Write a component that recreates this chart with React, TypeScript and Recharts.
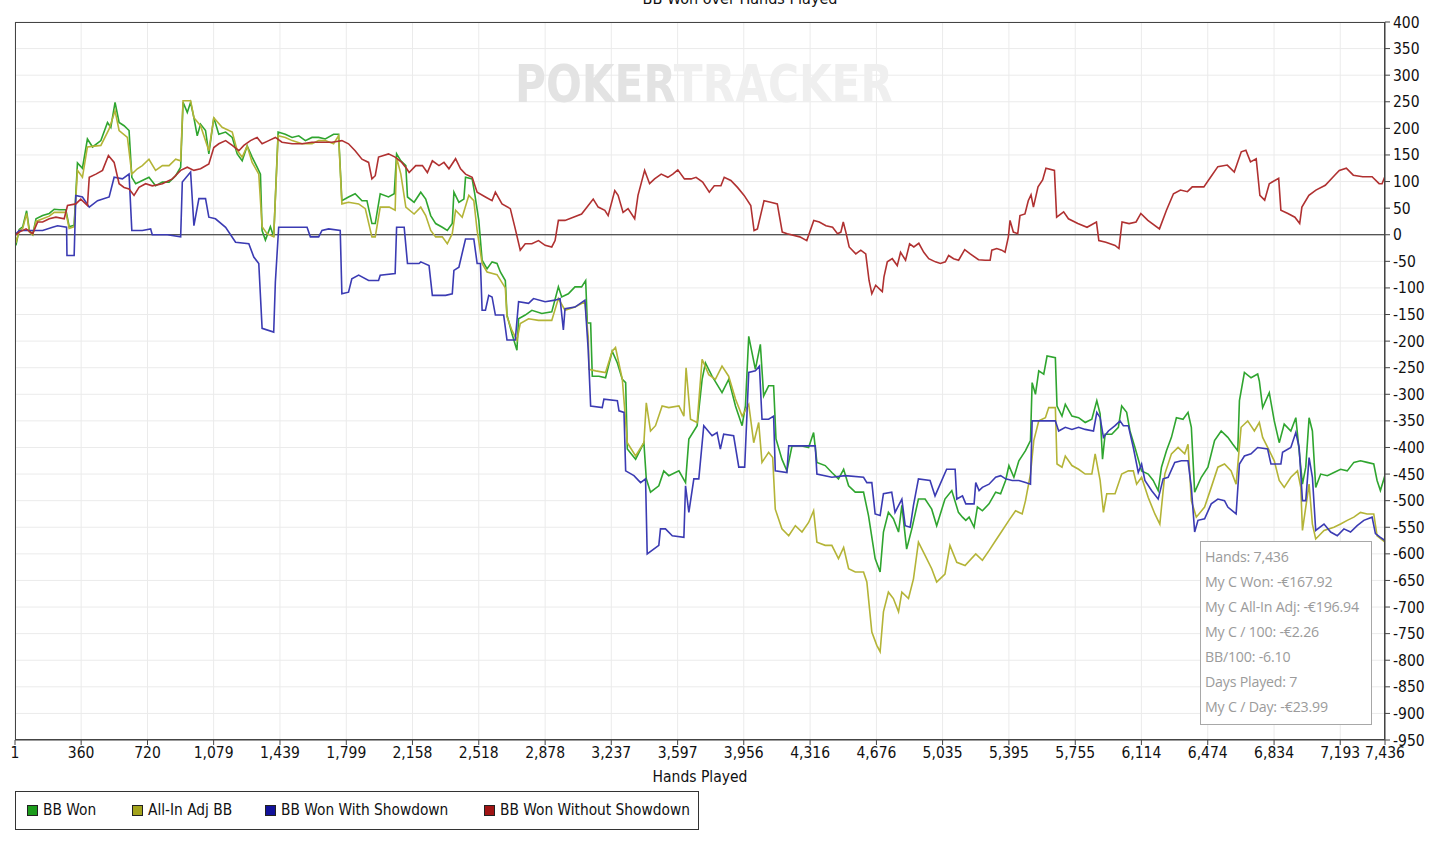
import { CartesianGrid, Line, LineChart, ReferenceLine, XAxis, YAxis } from 'recharts';

// [hand, big blinds] pairs
const bbWon: [number, number][] = [
  [1, 0], [6, -20], [24, 10], [43, 15], [64, 45], [79, 8], [97, 0], [115, 30], [151, 36], [187, 40], [214, 48], [241, 47],
  [277, 47], [295, 15], [322, 18], [340, 135], [367, 125], [394, 180], [422, 165], [467, 177], [503, 211], [521, 202],
  [544, 249], [566, 211], [593, 205], [620, 196], [635, 108], [656, 96], [692, 102], [728, 108], [764, 92], [801, 99],
  [837, 99], [873, 111], [900, 127], [913, 249], [936, 230], [954, 249], [972, 220], [990, 186], [1008, 208], [1035, 196],
  [1053, 152], [1080, 220], [1107, 189], [1144, 193], [1180, 183], [1207, 152], [1234, 139], [1261, 167], [1288, 146],
  [1315, 127], [1333, 114], [1342, 8], [1360, -10], [1387, 15], [1405, -4], [1429, 193], [1468, 189], [1505, 183],
  [1541, 186], [1577, 177], [1613, 183], [1649, 183], [1685, 180], [1730, 189], [1757, 189], [1775, 64], [1811, 71],
  [1847, 77], [1884, 64], [1911, 64], [1938, 21], [1956, 21], [1983, 77], [2028, 71], [2059, 77], [2072, 152], [2095, 139],
  [2122, 130], [2131, 71], [2167, 61], [2203, 80], [2230, 67], [2257, 36], [2284, 21], [2320, 14], [2347, 8], [2374, 21],
  [2383, 80], [2410, 61], [2437, 67], [2446, 108], [2482, 105], [2496, 77], [2518, 27], [2536, -48], [2563, -64],
  [2590, -51], [2617, -54], [2635, -70], [2662, -86], [2671, -151], [2698, -186], [2725, -217], [2734, -158], [2770, -151],
  [2806, -142], [2860, -148], [2914, -145], [2950, -98], [2968, -117], [3004, -111], [3040, -98], [3076, -98], [3098, -86],
  [3107, -166], [3125, -166], [3134, -266], [3170, -266], [3206, -269], [3242, -219], [3270, -241], [3297, -272],
  [3315, -278], [3324, -403], [3369, -422], [3414, -391], [3427, -459], [3450, -484], [3495, -472], [3522, -444],
  [3549, -453], [3604, -444], [3640, -466], [3658, -384], [3703, -359], [3730, -272], [3748, -241], [3784, -266],
  [3838, -297], [3874, -272], [3911, -322], [3947, -359], [3965, -322], [3983, -191], [4019, -253], [4046, -206],
  [4064, -303], [4091, -284], [4118, -284], [4131, -384], [4163, -422], [4190, -444], [4218, -397], [4272, -397],
  [4308, -400], [4335, -372], [4353, -428], [4398, -434], [4434, -447], [4470, -459], [4498, -441], [4525, -472],
  [4561, -484], [4606, -484], [4633, -528], [4669, -609], [4696, -634], [4714, -559], [4741, -522], [4768, -534],
  [4796, -559], [4814, -509], [4840, -591], [4868, -553], [4904, -497], [4940, -497], [4976, -516], [5003, -547],
  [5048, -497], [5085, -481], [5121, -522], [5143, -531], [5161, -537], [5179, -531], [5206, -550], [5224, -512],
  [5251, -519], [5287, -506], [5323, -484], [5350, -487], [5377, -462], [5395, -434], [5422, -456], [5449, -425],
  [5485, -406], [5512, -387], [5521, -278], [5539, -300], [5557, -256], [5584, -262], [5602, -228], [5647, -231],
  [5656, -322], [5683, -341], [5701, -319], [5737, -341], [5773, -344], [5809, -353], [5845, -347], [5872, -312],
  [5890, -337], [5903, -422], [5917, -375], [5953, -375], [5989, -362], [6007, -322], [6034, -334], [6052, -369],
  [6079, -400], [6115, -444], [6151, -450], [6178, -462], [6205, -481], [6223, -437], [6250, -406], [6277, -381],
  [6304, -344], [6340, -347], [6367, -334], [6385, -362], [6403, -484], [6439, -456], [6475, -437], [6511, -387],
  [6547, -369], [6583, -381], [6610, -394], [6637, -406], [6646, -312], [6673, -259], [6709, -269], [6745, -262],
  [6754, -275], [6772, -325], [6808, -297], [6835, -350], [6862, -391], [6889, -356], [6925, -369], [6952, -344],
  [6970, -406], [6988, -469], [7006, -437], [7024, -344], [7042, -369], [7060, -475], [7087, -450], [7123, -453],
  [7159, -447], [7195, -441], [7231, -444], [7267, -428], [7303, -425], [7339, -428], [7375, -431], [7393, -462],
  [7411, -481], [7436, -452],
];

const allInAdj: [number, number][] = [
  [1, 0], [6, -15], [24, 8], [43, 12], [64, 40], [79, 5], [97, 0], [115, 25], [151, 30], [187, 35], [214, 42], [241, 42],
  [277, 42], [295, 12], [322, 15], [340, 121], [367, 108], [394, 165], [467, 168], [512, 199], [544, 233], [566, 196],
  [611, 183], [635, 114], [665, 124], [692, 130], [728, 142], [764, 121], [801, 130], [837, 130], [873, 142], [900, 139],
  [913, 252], [954, 252], [972, 220], [1008, 205], [1053, 158], [1080, 220], [1125, 202], [1180, 193], [1207, 158],
  [1234, 146], [1261, 167], [1288, 136], [1324, 114], [1342, 15], [1369, 2], [1405, -4], [1429, 186], [1468, 183],
  [1505, 177], [1559, 171], [1613, 171], [1649, 177], [1685, 177], [1730, 171], [1757, 186], [1775, 58], [1811, 61],
  [1866, 58], [1902, 49], [1938, -4], [1956, -4], [1983, 52], [2032, 52], [2064, 46], [2072, 145], [2095, 114], [2122, 52],
  [2167, 39], [2203, 52], [2230, 36], [2257, 8], [2284, -4], [2320, -4], [2347, -17], [2374, 2], [2392, 46], [2428, 33],
  [2464, 74], [2491, 64], [2509, 8], [2536, -54], [2563, -70], [2617, -75], [2662, -100], [2671, -154], [2698, -180],
  [2725, -198], [2743, -167], [2788, -158], [2842, -161], [2914, -161], [2950, -120], [2986, -142], [3040, -136],
  [3094, -126], [3112, -192], [3116, -253], [3152, -256], [3206, -259], [3242, -219], [3260, -212], [3297, -272],
  [3324, -391], [3369, -416], [3414, -391], [3427, -316], [3450, -369], [3477, -359], [3513, -322], [3549, -325],
  [3604, -322], [3631, -341], [3643, -250], [3667, -347], [3703, -353], [3730, -234], [3766, -263], [3802, -272],
  [3838, -247], [3874, -266], [3911, -309], [3947, -341], [3983, -319], [4010, -391], [4037, -353], [4055, -428],
  [4091, -409], [4113, -419], [4127, -516], [4163, -553], [4200, -566], [4236, -547], [4272, -559], [4308, -541],
  [4335, -519], [4353, -578], [4398, -584], [4434, -584], [4470, -609], [4498, -588], [4525, -628], [4561, -634],
  [4606, -634], [4624, -653], [4651, -747], [4678, -772], [4696, -784], [4714, -709], [4741, -672], [4768, -684],
  [4796, -709], [4814, -672], [4850, -684], [4877, -647], [4904, -578], [4940, -603], [4976, -628], [5003, -653],
  [5048, -638], [5075, -584], [5112, -616], [5157, -622], [5215, -600], [5251, -612], [5287, -594], [5323, -575],
  [5359, -556], [5395, -537], [5431, -519], [5467, -525], [5485, -500], [5512, -450], [5530, -387], [5557, -350],
  [5593, -344], [5611, -325], [5647, -325], [5656, -431], [5683, -437], [5701, -416], [5737, -434], [5773, -441],
  [5809, -450], [5845, -450], [5863, -412], [5890, -462], [5908, -522], [5926, -487], [5971, -487], [6007, -450],
  [6043, -444], [6070, -444], [6088, -469], [6115, -456], [6151, -494], [6187, -525], [6214, -544], [6241, -450],
  [6277, -412], [6313, -400], [6349, -412], [6367, -394], [6385, -500], [6412, -531], [6457, -512], [6493, -475],
  [6529, -437], [6565, -431], [6601, -444], [6628, -469], [6655, -362], [6691, -350], [6727, -369], [6754, -353],
  [6772, -381], [6808, -406], [6835, -425], [6862, -462], [6889, -475], [6925, -456], [6961, -444], [6979, -475],
  [6988, -556], [7006, -512], [7024, -469], [7042, -544], [7060, -572], [7105, -556], [7159, -550], [7195, -544],
  [7231, -537], [7267, -531], [7303, -522], [7339, -525], [7375, -525], [7393, -566], [7436, -578],
];

const withShowdown: [number, number][] = [
  [1, 0], [24, 8], [115, 8], [151, 8], [205, 14], [232, 17], [281, 14], [283, -39], [322, -39], [331, 74], [367, 71],
  [404, 52], [449, 64], [512, 71], [539, 108], [584, 105], [620, 114], [635, 8], [692, 8], [737, 11], [746, 0], [828, 0],
  [900, -4], [909, 99], [954, 118], [972, 17], [999, 68], [1035, 68], [1053, 33], [1089, 30], [1144, 14], [1198, -14],
  [1270, -17], [1297, -42], [1324, -54], [1342, -176], [1405, -183], [1414, -89], [1432, 14], [1505, 14], [1586, 14],
  [1604, -4], [1649, -4], [1667, 8], [1703, 11], [1766, 8], [1775, -111], [1811, -108], [1829, -83], [1866, -76],
  [1920, -86], [1974, -86], [1983, -76], [2064, -73], [2072, 14], [2113, 14], [2131, -54], [2194, -54], [2203, -51],
  [2248, -58], [2266, -114], [2338, -114], [2374, -111], [2383, -67], [2410, -61], [2446, -8], [2491, -8], [2509, -54],
  [2527, -54], [2536, -142], [2554, -142], [2572, -114], [2590, -117], [2608, -151], [2653, -151], [2671, -198],
  [2716, -198], [2734, -126], [2788, -129], [2815, -120], [2878, -126], [2932, -123], [2959, -120], [2977, -179],
  [2986, -139], [3040, -136], [3094, -123], [3112, -217], [3125, -322], [3188, -325], [3197, -309], [3270, -312],
  [3279, -331], [3306, -334], [3315, -444], [3360, -453], [3396, -466], [3423, -459], [3432, -600], [3495, -584],
  [3504, -553], [3531, -553], [3568, -566], [3631, -569], [3640, -472], [3658, -522], [3685, -459], [3712, -459],
  [3739, -359], [3784, -378], [3811, -372], [3829, -403], [3847, -375], [3901, -378], [3929, -437], [3961, -437],
  [3983, -259], [4019, -256], [4041, -247], [4055, -347], [4091, -347], [4118, -341], [4127, -444], [4190, -447],
  [4200, -397], [4344, -397], [4353, -450], [4434, -456], [4507, -453], [4606, -456], [4624, -466], [4651, -466],
  [4669, -525], [4696, -528], [4714, -487], [4759, -484], [4777, -522], [4814, -497], [4832, -547], [4859, -550],
  [4877, -509], [4904, -459], [4967, -462], [4994, -491], [5057, -441], [5103, -441], [5112, -497], [5143, -491],
  [5161, -506], [5206, -506], [5215, -466], [5233, -481], [5251, -475], [5287, -469], [5323, -456], [5350, -453],
  [5377, -459], [5413, -462], [5449, -462], [5485, -466], [5512, -469], [5521, -350], [5647, -350], [5665, -369],
  [5701, -362], [5737, -366], [5773, -362], [5809, -366], [5854, -369], [5872, -334], [5890, -344], [5908, -381],
  [5935, -369], [5971, -359], [5998, -350], [6016, -359], [6043, -359], [6070, -400], [6097, -447], [6115, -431],
  [6133, -462], [6169, -481], [6205, -497], [6232, -459], [6259, -456], [6295, -428], [6331, -425], [6367, -425],
  [6385, -475], [6403, -559], [6421, -537], [6457, -534], [6493, -506], [6529, -497], [6565, -500], [6583, -512],
  [6628, -525], [6646, -431], [6673, -416], [6709, -412], [6745, -400], [6799, -403], [6817, -431], [6871, -431],
  [6880, -409], [6925, -400], [6952, -372], [6970, -400], [6988, -500], [7006, -500], [7024, -419], [7042, -456],
  [7060, -556], [7105, -544], [7141, -559], [7177, -566], [7213, -553], [7249, -559], [7285, -547], [7321, -537],
  [7366, -531], [7384, -562], [7411, -569], [7436, -575],
];

const withoutShowdown: [number, number][] = [
  [1, 0], [6, 0], [24, 5], [61, 11], [97, 2], [124, 24], [151, 24], [187, 30], [223, 33], [268, 30], [286, 55], [331, 58],
  [358, 67], [394, 55], [404, 108], [440, 114], [476, 121], [508, 149], [539, 136], [566, 96], [593, 89], [620, 86],
  [647, 74], [674, 89], [710, 96], [746, 92], [801, 96], [855, 105], [900, 121], [936, 127], [972, 121], [1008, 124],
  [1053, 133], [1080, 164], [1107, 171], [1144, 177], [1180, 168], [1216, 158], [1243, 168], [1279, 177], [1315, 183],
  [1342, 171], [1378, 177], [1414, 183], [1450, 174], [1505, 171], [1559, 171], [1613, 174], [1667, 174], [1721, 174],
  [1775, 177], [1811, 171], [1847, 158], [1884, 142], [1920, 136], [1938, 105], [1956, 111], [1974, 146], [2028, 152],
  [2064, 146], [2100, 136], [2127, 124], [2140, 117], [2176, 130], [2212, 130], [2239, 117], [2266, 139], [2302, 130],
  [2329, 136], [2356, 124], [2392, 143], [2419, 124], [2446, 114], [2482, 108], [2509, 80], [2554, 71], [2590, 64],
  [2608, 80], [2644, 58], [2689, 49], [2716, 11], [2743, -29], [2770, -17], [2806, -17], [2842, -11], [2878, -20],
  [2914, -23], [2932, -11], [2950, 27], [2986, 27], [3031, 33], [3076, 39], [3112, 55], [3139, 67], [3166, 52], [3202, 46],
  [3220, 36], [3256, 83], [3274, 74], [3301, 42], [3328, 49], [3364, 30], [3382, 74], [3418, 121], [3445, 96], [3472, 105],
  [3508, 114], [3544, 108], [3571, 114], [3598, 122], [3634, 105], [3670, 105], [3697, 108], [3733, 99], [3769, 80],
  [3796, 92], [3832, 92], [3850, 108], [3886, 102], [3922, 89], [3958, 74], [3994, 55], [4012, 8], [4030, 11], [4066, 64],
  [4102, 61], [4138, 58], [4165, 5], [4192, 2], [4260, -4], [4298, -11], [4336, 27], [4366, 24], [4402, 17], [4438, 14],
  [4465, 2], [4483, 5], [4496, 24], [4510, 5], [4528, -23], [4564, -36], [4591, -29], [4618, -36], [4636, -86],
  [4651, -111], [4672, -95], [4699, -104], [4708, -107], [4717, -79], [4735, -51], [4762, -45], [4789, -58], [4807, -33],
  [4834, -48], [4856, -17], [4879, -23], [4906, -16], [4933, -33], [4960, -45], [4996, -51], [5023, -54], [5050, -51],
  [5068, -39], [5095, -45], [5122, -48], [5155, -28], [5185, -36], [5230, -47], [5266, -48], [5293, -48], [5302, -29],
  [5329, -26], [5356, -29], [5374, -33], [5392, -4], [5401, 27], [5419, 5], [5443, 2], [5455, 36], [5482, 39], [5500, 64],
  [5515, 75], [5528, 52], [5553, 90], [5578, 103], [5596, 125], [5642, 121], [5654, 33], [5692, 43], [5718, 30],
  [5769, 21], [5819, 14], [5870, 24], [5883, -11], [5921, -14], [5971, -20], [5992, -26], [6009, 24], [6047, 21],
  [6085, 24], [6111, 40], [6149, 27], [6212, 11], [6250, 46], [6288, 77], [6326, 84], [6364, 81], [6390, 90], [6453, 90],
  [6491, 109], [6529, 128], [6580, 131], [6618, 118], [6656, 156], [6681, 159], [6706, 137], [6737, 143], [6757, 74],
  [6783, 65], [6808, 96], [6859, 106], [6871, 46], [6909, 40], [6947, 33], [6973, 21], [6985, 52], [7023, 74], [7061, 84],
  [7112, 93], [7163, 112], [7188, 121], [7226, 125], [7264, 112], [7315, 109], [7366, 109], [7404, 96], [7420, 96],
  [7436, 110],
];

const handTicks = [1, 360, 720, 1079, 1439, 1799, 2158, 2518, 2878, 3237, 3597, 3956, 4316, 4676, 5035, 5395, 5755, 6114, 6474, 6834, 7193, 7436];
const bbTicks = [400, 350, 300, 250, 200, 150, 100, 50, 0, -50, -100, -150, -200, -250, -300, -350, -400, -450, -500, -550, -600, -650, -700, -750, -800, -850, -900, -950];

const summaryLines = [
  'Hands: 7,436',
  'My C Won: -€167.92',
  'My C All-In Adj: -€196.94',
  'My C / 100: -€2.26',
  'BB/100: -6.10',
  'Days Played: 7',
  'My C / Day: -€23.99',
];

const series = [
  { name: 'BB Won', points: bbWon, stroke: '#2fa52f', swatch: '#1c9c1c' },
  { name: 'All-In Adj BB', points: allInAdj, stroke: '#b4b437', swatch: '#a3a31c' },
  { name: 'BB Won With Showdown', points: withShowdown, stroke: '#3b3bb3', swatch: '#12129a' },
  { name: 'BB Won Without Showdown', points: withoutShowdown, stroke: '#b03131', swatch: '#a01414' },
];

const legendOffsets = [11, 116, 249, 468];

const narrow = "'Liberation Sans Narrow', 'DejaVu Sans Condensed', sans-serif";
const tickStyle = { fill: '#111', fontSize: 15.5, fontFamily: narrow };

export default function App() {
  return (
    <div style={{ position: 'absolute', left: 0, top: 0, width: 1435, height: 842, background: '#fff', overflow: 'hidden' }}>
      <LineChart width={1435} height={842} margin={{ top: 22, right: 5, bottom: 72, left: 15 }}>
        <text x={740} y={4} textAnchor="middle" fontFamily={narrow} fontSize={16} fill="#111">
          BB Won over Hands Played
        </text>
        <text
          x={515}
          y={102}
          textLength={378}
          lengthAdjust="spacingAndGlyphs"
          fontFamily={narrow}
          fontWeight={700}
          fontSize={52}
        >
          <tspan fill="#e3e3e3">POKER</tspan>
          <tspan fill="#efefef">TRACKER</tspan>
        </text>
        <CartesianGrid stroke="#ebebeb" strokeWidth={1} />
        <XAxis
          dataKey="hand"
          type="number"
          domain={[1, 7436]}
          ticks={handTicks}
          interval={0}
          allowDataOverflow
          tickFormatter={(v: number) => v.toLocaleString('en-US')}
          tick={tickStyle}
          tickSize={5}
          tickMargin={2}
          height={30}
          stroke="#444"
        />
        <YAxis
          orientation="right"
          type="number"
          domain={[-950, 400]}
          ticks={bbTicks}
          interval={0}
          tick={{ ...tickStyle, textAnchor: 'start' }}
          tickSize={5}
          tickMargin={3}
          width={45}
          stroke="#444"
        />
        <ReferenceLine y={0} stroke="#222" strokeWidth={1.2} />
        {series.map((s) => (
          <Line
            key={s.name}
            data={s.points.map(([hand, bb]) => ({ hand, bb }))}
            dataKey="bb"
            name={s.name}
            type="linear"
            stroke={s.stroke}
            strokeWidth={1.6}
            dot={false}
            activeDot={false}
            isAnimationActive={false}
          />
        ))}
      </LineChart>

      {/* plot frame */}
      <div style={{ position: 'absolute', left: 15, top: 22, width: 1370, height: 718, border: '1px solid #444', boxSizing: 'border-box', pointerEvents: 'none' }} />

      <div style={{ position: 'absolute', left: 0, width: 1400, top: 768, textAlign: 'center', fontFamily: narrow, fontSize: 15.5, color: '#111' }}>
        Hands Played
      </div>

      <div
        style={{
          position: 'absolute',
          left: 1200,
          top: 541,
          width: 172,
          height: 184,
          border: '1px solid #a8a8a8',
          background: '#fff',
          boxSizing: 'border-box',
          padding: '4px 0 0 4px',
          fontFamily: "'Open Sans', sans-serif",
          fontSize: 14.2,
          letterSpacing: -0.2,
          color: '#9b9b9b',
        }}
      >
        {summaryLines.map((line) => (
          <div key={line} style={{ height: 25, lineHeight: '22px', whiteSpace: 'nowrap' }}>
            {line}
          </div>
        ))}
      </div>

      <div style={{ position: 'absolute', left: 15, top: 791, width: 684, height: 39, border: '1px solid #333', boxSizing: 'border-box' }}>
        {series.map((s, i) => (
          <div
            key={s.name}
            style={{ position: 'absolute', left: legendOffsets[i], top: 9, display: 'flex', alignItems: 'center', fontFamily: narrow, fontSize: 15.3, color: '#111', whiteSpace: 'nowrap' }}
          >
            <span style={{ width: 9, height: 9, background: s.swatch, border: '1px solid #222', marginRight: 5, display: 'inline-block' }} />
            {s.name}
          </div>
        ))}
      </div>
    </div>
  );
}
